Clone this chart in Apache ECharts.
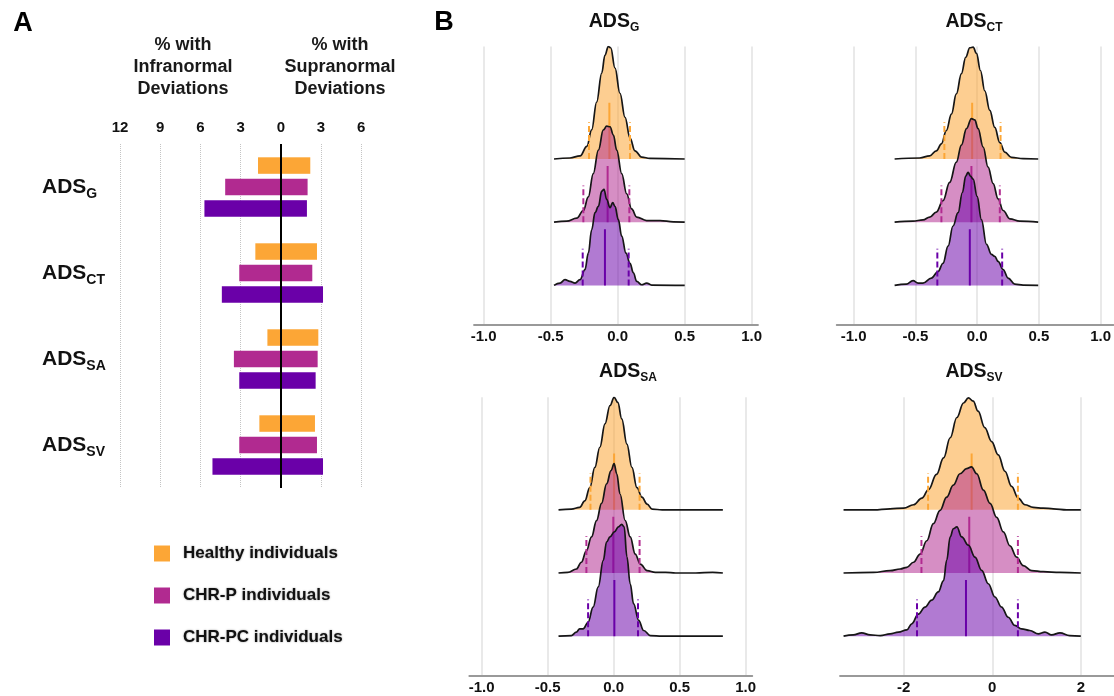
<!DOCTYPE html>
<html lang="en">
<head>
<meta charset="UTF-8">
<title>ADS deviations</title>
<script src="https://cdn.jsdelivr.net/npm/echarts@6/dist/echarts.min.js"></script>
<style>html,body{margin:0;padding:0;background:#fff;}</style>
</head>
<body>
<div id="main" style="width:1114px;height:696px;"></div>
<script>
// ---- panel A: % of individuals with infra / supranormal deviations ----
const adsNames = ['G', 'CT', 'SA', 'SV'];
const groupNames = ['Healthy individuals', 'CHR-P individuals', 'CHR-PC individuals'];
const pctTicks = [-12, -9, -6, -3, 0, 3, 6];
const pctGrid = [-12, -9, -6, -3, 3, 6];

const infraHealthy = [1.7, 1.9, 1.0, 1.6];
const supraHealthy = [2.2, 2.7, 2.8, 2.55];
const infraChrp = [4.15, 3.1, 3.5, 3.1];
const supraChrp = [2.0, 2.35, 2.75, 2.7];
const infraChrpc = [5.7, 4.4, 3.1, 5.1];
const supraChrpc = [1.95, 3.15, 2.6, 3.15];

// ---- panel B: density ridges, [deviation, density] ----
const gHealthy = [[-0.475,0],[-0.356,0.016],[-0.28,0.05],[-0.23,0.20],[-0.194,0.46],[-0.157,0.90],[-0.119,1.36],[-0.095,1.64],[-0.07,1.78],[-0.052,1.76],[-0.02,1.44],[0.017,1.04],[0.055,0.66],[0.092,0.33],[0.129,0.13],[0.18,0.03],[0.24,0.01],[0.5,0]];
const gChrp = [[-0.475,0],[-0.38,0.016],[-0.306,0.063],[-0.256,0.185],[-0.219,0.40],[-0.182,0.77],[-0.144,1.14],[-0.107,1.46],[-0.082,1.52],[-0.057,1.51],[-0.032,1.38],[-0.007,1.14],[0.03,0.77],[0.067,0.45],[0.104,0.21],[0.142,0.08],[0.216,0.026],[0.316,0.026],[0.415,0.005],[0.5,0]];
const gChrpc = [[-0.475,0],[-0.43,0.037],[-0.393,0.09],[-0.356,0.063],[-0.318,0.037],[-0.281,0.09],[-0.244,0.25],[-0.219,0.51],[-0.194,0.88],[-0.169,1.15],[-0.144,1.25],[-0.119,1.49],[-0.102,1.52],[-0.082,1.36],[-0.057,1.23],[-0.037,1.31],[-0.02,1.25],[0.005,1.04],[0.03,0.78],[0.062,0.51],[0.092,0.35],[0.117,0.20],[0.142,0.063],[0.179,0.01],[0.216,0.037],[0.254,0.005],[0.5,0]];

const ctHealthy = [[-0.668,0],[-0.465,0.016],[-0.384,0.05],[-0.33,0.13],[-0.289,0.24],[-0.249,0.45],[-0.208,0.71],[-0.168,1.03],[-0.127,1.35],[-0.092,1.61],[-0.059,1.76],[-0.032,1.77],[-0.005,1.67],[0.027,1.40],[0.062,1.08],[0.103,0.77],[0.143,0.50],[0.184,0.26],[0.224,0.11],[0.278,0.026],[0.373,0.005],[0.495,0]];
const ctChrp = [[-0.668,0],[-0.519,0.016],[-0.438,0.037],[-0.384,0.08],[-0.33,0.16],[-0.276,0.34],[-0.222,0.63],[-0.168,0.95],[-0.127,1.22],[-0.086,1.48],[-0.046,1.64],[-0.019,1.62],[0.008,1.48],[0.049,1.19],[0.089,0.87],[0.13,0.61],[0.17,0.37],[0.211,0.185],[0.265,0.053],[0.346,0.016],[0.495,0]];
const ctChrpc = [[-0.668,0],[-0.573,0.02],[-0.519,0.074],[-0.478,0.037],[-0.438,0.037],[-0.37,0.116],[-0.316,0.22],[-0.276,0.35],[-0.235,0.62],[-0.195,0.94],[-0.154,1.15],[-0.119,1.47],[-0.092,1.73],[-0.073,1.79],[-0.054,1.73],[-0.032,1.68],[0.0,1.41],[0.035,1.04],[0.076,0.65],[0.116,0.49],[0.143,0.46],[0.17,0.38],[0.211,0.25],[0.251,0.116],[0.305,0.02],[0.373,0.005],[0.495,0]];

const saHealthy = [[-0.418,0],[-0.321,0.01],[-0.258,0.037],[-0.219,0.14],[-0.181,0.35],[-0.143,0.67],[-0.105,0.99],[-0.066,1.36],[-0.028,1.65],[0.003,1.78],[0.031,1.70],[0.061,1.44],[0.1,1.04],[0.138,0.67],[0.176,0.35],[0.214,0.20],[0.253,0.09],[0.291,0.01],[0.367,0],[0.827,0]];
const saChrp = [[-0.418,0],[-0.347,0.01],[-0.283,0.063],[-0.245,0.17],[-0.207,0.35],[-0.168,0.57],[-0.13,0.83],[-0.092,1.10],[-0.054,1.41],[-0.02,1.62],[0.003,1.73],[0.023,1.57],[0.048,1.25],[0.087,0.83],[0.125,0.57],[0.163,0.30],[0.202,0.14],[0.253,0.037],[0.316,0.01],[0.393,0.01],[0.469,0],[0.622,0],[0.75,0.01],[0.827,0]];
const saChrpc = [[-0.418,0],[-0.321,0.01],[-0.283,0.063],[-0.258,0.116],[-0.232,0.116],[-0.194,0.22],[-0.156,0.46],[-0.117,0.78],[-0.079,1.20],[-0.054,1.49],[-0.028,1.57],[0.005,1.65],[0.036,1.73],[0.061,1.77],[0.079,1.73],[0.1,1.26],[0.125,0.83],[0.151,0.51],[0.189,0.25],[0.227,0.09],[0.278,0.01],[0.367,0],[0.827,0]];

const svHealthy = [[-3.36,0],[-2.68,0],[-2.31,0.016],[-2.0,0.026],[-1.78,0.08],[-1.59,0.185],[-1.44,0.32],[-1.26,0.56],[-1.1,0.82],[-0.95,1.14],[-0.8,1.46],[-0.65,1.69],[-0.54,1.77],[-0.43,1.72],[-0.32,1.56],[-0.17,1.30],[-0.015,1.08],[0.135,0.87],[0.286,0.61],[0.436,0.37],[0.586,0.185],[0.737,0.08],[0.925,0.037],[1.15,0.026],[1.38,0.016],[1.68,0],[2.0,0]];
const svChrp = [[-3.36,0],[-2.68,0.01],[-2.31,0.037],[-2.08,0.063],[-1.93,0.09],[-1.78,0.17],[-1.63,0.30],[-1.48,0.51],[-1.33,0.78],[-1.18,0.99],[-1.03,1.20],[-0.88,1.39],[-0.73,1.57],[-0.58,1.65],[-0.47,1.68],[-0.35,1.57],[-0.2,1.31],[-0.05,1.10],[0.1,0.88],[0.25,0.65],[0.4,0.43],[0.55,0.25],[0.7,0.116],[0.89,0.037],[1.15,0.02],[1.53,0.01],[2.0,0]];
const svChrpc = [[-3.36,0],[-3.14,0.02],[-2.95,0.053],[-2.76,0.02],[-2.53,0.01],[-2.31,0.037],[-2.12,0.063],[-1.93,0.1],[-1.82,0.196],[-1.67,0.35],[-1.52,0.46],[-1.37,0.57],[-1.22,0.70],[-1.1,0.88],[-1.03,1.20],[-0.95,1.57],[-0.88,1.70],[-0.8,1.73],[-0.69,1.57],[-0.54,1.44],[-0.39,1.25],[-0.24,1.04],[-0.09,0.83],[0.06,0.62],[0.21,0.46],[0.36,0.30],[0.51,0.17],[0.66,0.116],[0.85,0.09],[1.04,0.037],[1.19,0.063],[1.34,0.02],[1.53,0.053],[1.75,0.01],[2.0,0]];

// [median, lower, upper] for healthy, CHR-P, CHR-PC
const gStats = [[-0.062,-0.214,0.092],[-0.075,-0.256,0.087],[-0.095,-0.261,0.082]];
const ctStats = [[-0.04,-0.265,0.19],[-0.046,-0.289,0.184],[-0.059,-0.322,0.203]];
const saStats = [[0.003,-0.176,0.196],[-0.003,-0.207,0.196],[0.005,-0.194,0.184]];
const svStats = [[-0.466,-1.45,0.579],[-0.52,-1.60,0.579],[-0.594,-1.70,0.579]];

const ticksB = [-1, -0.5, 0, 0.5, 1];
const ticksSV = [-2, 0, 2];

// ---- styling ----
const fam = '"Liberation Sans", Arial, sans-serif';
const colors = ['#FCA636', '#B12A90', '#6A00A8'];
const fills = ['rgba(252,166,54,0.55)', 'rgba(177,42,144,0.53)', 'rgba(106,0,168,0.52)'];

const panels = [
    {sub: 'G', ridges: [gHealthy, gChrp, gChrpc], stats: gStats, ticks: ticksB, dec: 1, min: -1.072, max: 1.047, left: 474, right: 356, top: 46.5, tx: 614, ty: 22},
    {sub: 'CT', ridges: [ctHealthy, ctChrp, ctChrpc], stats: ctStats, ticks: ticksB, dec: 1, min: -1.137, max: 1.106, left: 836.7, right: 0, top: 46.5, tx: 974, ty: 22},
    {sub: 'SA', ridges: [saHealthy, saChrp, saChrpc], stats: saStats, ticks: ticksB, dec: 1, min: -1.094, max: 1.05, left: 469.3, right: 361.7, top: 397.3, tx: 628, ty: 372},
    {sub: 'SV', ridges: [svHealthy, svChrp, svChrpc], stats: svStats, ticks: ticksSV, dec: 0, min: -3.44, max: 2.75, left: 840, right: 0, top: 397.3, tx: 974, ty: 372}
];

const grid = [{left: 120, right: 726, top: 144, bottom: 208}];
const xAxis = [{
    gridIndex: 0, type: 'value', position: 'top', min: -12, max: 8,
    axisLine: {onZero: false, lineStyle: {color: '#000', width: 2.5}},
    axisTick: {show: false},
    splitLine: {show: false},
    axisLabel: {customValues: pctTicks, formatter: v => Math.abs(v), color: '#111', fontWeight: 'bold', fontSize: 15, fontFamily: fam, margin: 9}
}];
const yAxis = [{
    gridIndex: 0, type: 'category', data: adsNames, inverse: true,
    axisLine: {show: false}, axisTick: {show: false},
    axisLabel: {
        align: 'left', margin: 78,
        formatter: v => '{a|ADS}{s|' + v + '}',
        rich: {
            a: {fontSize: 21, fontWeight: 'bold', fontFamily: fam, color: '#111', lineHeight: 28},
            s: {fontSize: 14, fontWeight: 'bold', fontFamily: fam, color: '#111', lineHeight: 14, verticalAlign: 'bottom'}
        }
    }
}];

const series = [];
// dotted gridlines of panel A, kept under the bars
series.push({
    type: 'line', xAxisIndex: 0, yAxisIndex: 0, data: [], silent: true,
    markLine: {z: 1, silent: true, symbol: ['none', 'none'], label: {show: false},
        lineStyle: {color: '#c4c4c4', width: 1, type: 'dotted'},
        data: pctGrid.map(v => ({xAxis: v}))}
});
const infra = [infraHealthy, infraChrp, infraChrpc];
const supra = [supraHealthy, supraChrp, supraChrpc];
groupNames.forEach((name, g) => {
    [infra[g].map(v => -v), supra[g]].forEach(d => {
        series.push({
            name: name, type: 'bar', xAxisIndex: 0, yAxisIndex: 0, stack: 'grp' + g, z: 2,
            barWidth: 16.5, barGap: '30%', itemStyle: {color: colors[g]}, data: d
        });
    });
});
// zero line on top of the bars
series.push({
    type: 'line', xAxisIndex: 0, yAxisIndex: 0, data: [], silent: true,
    markLine: {z: 6, silent: true, symbol: ['none', 'none'], label: {show: false},
        lineStyle: {color: '#000', width: 2, type: 'solid'},
        data: [{xAxis: 0}]}
});

const graphic = [
    {type: 'text', x: 23, y: 24, style: {text: 'A', fontSize: 27, fontWeight: 'bold', fontFamily: fam, fill: '#000', align: 'center', verticalAlign: 'middle'}},
    {type: 'text', x: 444, y: 23, style: {text: 'B', fontSize: 27, fontWeight: 'bold', fontFamily: fam, fill: '#000', align: 'center', verticalAlign: 'middle'}},
    {type: 'text', x: 183, y: 67, style: {text: '% with\nInfranormal\nDeviations', fontSize: 18, fontWeight: 'bold', fontFamily: fam, fill: '#1a1a1a', lineHeight: 22, align: 'center', verticalAlign: 'middle'}},
    {type: 'text', x: 340, y: 67, style: {text: '% with\nSupranormal\nDeviations', fontSize: 18, fontWeight: 'bold', fontFamily: fam, fill: '#1a1a1a', lineHeight: 22, align: 'center', verticalAlign: 'middle'}}
];

panels.forEach((p, i) => {
    const ax = i + 1;
    grid.push({left: p.left, right: p.right, top: p.top, height: 278.7});
    xAxis.push({
        gridIndex: ax, type: 'value', min: p.min, max: p.max,
        axisLine: {onZero: false, lineStyle: {color: '#999', width: 1.8}},
        axisTick: {show: false}, splitLine: {show: false},
        axisLabel: {customValues: p.ticks, formatter: v => v.toFixed(p.dec), color: '#111', fontWeight: 'bold', fontSize: 15, fontFamily: fam, margin: 4}
    });
    yAxis.push({gridIndex: ax, type: 'value', min: -0.63, max: 3.78, show: false});
    // light vertical gridlines behind the ridges
    series.push({
        type: 'line', xAxisIndex: ax, yAxisIndex: ax, data: [], silent: true,
        markLine: {z: 0, silent: true, symbol: ['none', 'none'], label: {show: false},
            lineStyle: {color: '#e2e2e2', width: 1.5, type: 'solid'},
            data: p.ticks.map(v => ({xAxis: v}))}
    });
    p.ridges.forEach((r, g) => {
        const base = 2 - g;
        series.push({
            type: 'line', xAxisIndex: ax, yAxisIndex: ax, silent: true,
            smooth: 0.4, smoothMonotone: 'x', showSymbol: false, z: 2 + 2 * g,
            data: r.map(d => [d[0], base + d[1]]),
            lineStyle: {color: '#161616', width: 1.7},
            areaStyle: {origin: base, color: fills[g], opacity: 1}
        });
        const st = p.stats[g];
        [[st[0], 0.89, 'solid'], [st[1], 0.58, [6, 3]], [st[2], 0.58, [6, 3]]].forEach(m => {
            series.push({
                type: 'line', xAxisIndex: ax, yAxisIndex: ax, silent: true, showSymbol: false, z: 3 + 2 * g,
                data: [[m[0], base], [m[0], base + m[1]]],
                lineStyle: {color: colors[g], width: 2, type: m[2]}
            });
        });
    });
    graphic.push({
        type: 'text', x: p.tx, y: p.ty,
        style: {
            text: '{a|ADS}{s|' + p.sub + '}', align: 'center', verticalAlign: 'middle',
            rich: {
                a: {fontSize: 19.5, fontWeight: 'bold', fontFamily: fam, fill: '#111', lineHeight: 24},
                s: {fontSize: 12, fontWeight: 'bold', fontFamily: fam, fill: '#111', lineHeight: 12, verticalAlign: 'bottom'}
            }
        }
    });
});

const myChart = echarts.init(document.getElementById('main'));
myChart.setOption({
    animation: false,
    textStyle: {fontFamily: fam},
    grid: grid,
    xAxis: xAxis,
    yAxis: yAxis,
    legend: {
        data: groupNames, orient: 'vertical', left: 154, top: 545, padding: 0,
        icon: 'rect', itemWidth: 16, itemHeight: 16, itemGap: 25,
        textStyle: {fontSize: 17, fontWeight: 'bold', fontFamily: fam, color: '#111', lineHeight: 16,
            padding: [0, 0, 0, 8], textShadowColor: 'rgba(0,0,0,0.4)', textShadowBlur: 2}
    },
    graphic: graphic,
    series: series
});
</script>
</body>
</html>
